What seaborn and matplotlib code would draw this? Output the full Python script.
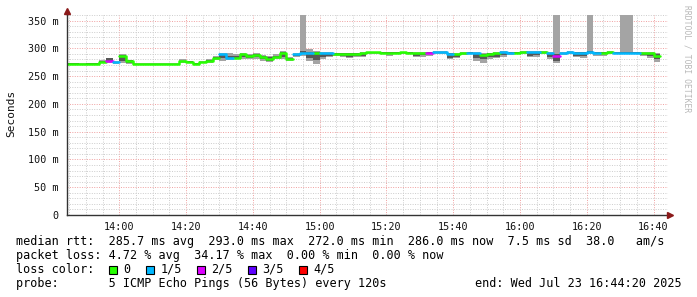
import numpy as np
import pandas as pd
import matplotlib
matplotlib.use("Agg")
import matplotlib.pyplot as plt
import seaborn as sns
from matplotlib.ticker import FixedLocator, MultipleLocator, NullFormatter

# ---------------- data ----------------
START_MIN = 13 * 60 + 44          # first 2-minute bin starts 13:44
STEP_MIN = 2
VIEW_START = 13 * 60 + 44 + 1 / 3  # 13:44:20
VIEW_END = 16 * 60 + 44 + 1 / 3    # 16:44:20

median_ms = [272.5, 272.5, 272.0, 272.5, 272.5, 275.0, 278.0, 275.0, 286.0, 278.0,
             272.0, 272.5, 272.0, 272.5, 272.0, 272.5, 272.5, 276.5, 275.0, 272.5,
             275.0, 277.5, 283.0, 289.0, 282.5, 283.0, 289.0, 286.0, 288.0, 284.0,
             281.0, 285.0, 292.0, 281.0, 289.0, 292.5, 292.5, 292.0, 291.0, 291.0,
             290.5, 290.5, 290.0, 290.5, 291.0, 293.0, 293.0, 292.5, 291.0, 292.0,
             293.0, 292.5, 291.5, 291.0, 292.5, 293.0, 293.0, 289.0, 289.0, 291.5,
             292.0, 291.0, 287.5, 290.0, 291.0, 293.0, 292.0, 292.0, 293.0, 293.0,
             293.0, 293.0, 291.0, 286.0, 291.0, 293.0, 292.0, 292.0, 293.0, 292.0,
             292.0, 293.0, 292.0, 291.0, 291.0, 292.5, 291.0, 291.0, 286.0]

lost_pings = [0, 0, 0, 0, 0, 0, 2, 1, 0, 0,
              0, 0, 0, 0, 0, 0, 0, 0, 0, 0,
              0, 0, 0, 1, 1, 0, 0, 0, 0, 0,
              0, 0, 0, 0, 1, 1, 1, 0, 1, 1,
              0, 0, 0, 0, 0, 0, 0, 0, 0, 0,
              0, 0, 0, 0, 2, 1, 1, 1, 0, 0,
              1, 1, 0, 0, 0, 1, 1, 0, 0, 1,
              1, 0, 1, 2, 1, 1, 1, 1, 1, 1,
              0, 0, 1, 1, 1, 1, 0, 0, 0]

ping_min = [272, 272, 271.5, 272, 272, 273, 274, 272.5, 273, 272,
            271.5, 272, 271.5, 272, 271.5, 272, 272, 274, 273, 271,
            273, 274, 279, 277, 279, 280, 281, 280, 281, 278,
            276, 280, 281, 278, 285, 286, 277, 272, 281, 284,
            286, 285, 283, 284, 284, 289, 289, 289, 286, 289,
            290, 290, 285, 285, 287, 290, 290, 280, 282, 288,
            289, 277, 274, 281, 282, 284, 288, 290, 290, 285,
            285, 290, 281, 273, 288, 290, 284, 283, 289, 287,
            286, 290, 290, 289, 289, 290, 286, 283, 276]

ping_2nd = [272, 272, 272, 272, 272, 274, 276, 274, 278, 273,
            272, 272, 272, 272, 272, 272, 272, 275, 274, 272,
            274, 276, 281, 282, 282, 282, 284, 283, 284, 280,
            278, 282, 285, 280, 287, 290, 283, 279, 284, 286,
            288, 287, 285, 287, 287, 291, 291, 291, 289, 291,
            291, 291, 287, 288, 289, 292, 292, 283, 285, 290,
            291, 282, 280, 285, 285, 288, 290, 291, 292, 287,
            288, 292, 285, 278, 290, 291, 287, 286, 291, 289,
            289, 292, 291, 291, 291, 291, 288, 286, 281]

ping_4th = [273, 273, 272.5, 273, 273, 277, 282, 276, 288, 279,
            272.5, 272.5, 272.5, 272.5, 272.5, 272.5, 272.5, 278, 277, 273,
            276, 279, 285, 290, 287, 287, 290, 288, 289, 287,
            284, 287, 293, 283, 290, 296, 294, 293, 292, 292,
            291, 291, 291, 291, 292, 293.5, 293.5, 293.5, 293, 293,
            293.5, 293.5, 292, 292, 293, 294, 294, 291, 290, 292,
            293, 292, 290, 291, 292, 294, 293, 293, 294, 294,
            294, 294, 292, 290, 292, 294, 293, 293, 295, 293,
            293, 294, 293, 293, 293, 293, 292, 292, 290]

ping_max = [273.5, 273.5, 273, 273.5, 273.5, 279, 283, 278, 289, 279.5,
            273, 273, 273, 273, 273, 273, 273, 280, 278, 274,
            277, 281, 286, 291, 292, 290, 292, 290, 291, 288,
            286, 289, 295, 285, 291, 400, 298, 295, 293, 293,
            292, 292, 292, 292, 293, 294, 294, 294, 294, 294,
            294, 294, 293, 293, 294, 295, 295, 292, 291, 293,
            294, 293, 292, 292, 293, 295, 294, 294, 295, 295,
            295, 295, 293, 400, 293, 295, 294, 294, 400, 294,
            294, 295, 294, 400, 400, 294, 293, 293, 292]

loss_labels = ["0", "1/5", "2/5", "3/5", "4/5"]
loss_colors = ["#26ff00", "#00b8ff", "#dd00ff", "#5e00ff", "#ff0000"]

x_tick_labels = ["14:00", "14:20", "14:40", "15:00", "15:20", "15:40", "16:00", "16:20", "16:40"]
y_tick_labels = ["0", "50 m", "100 m", "150 m", "200 m", "250 m", "300 m", "350 m"]

legend_lines = [
    "median rtt:  285.7 ms avg  293.0 ms max  272.0 ms min  286.0 ms now  7.5 ms sd  38.0   am/s",
    "packet loss: 4.72 % avg  34.17 % max  0.00 % min  0.00 % now",
]
loss_title = "loss color:"
probe_text = "probe:       5 ICMP Echo Pings (56 Bytes) every 120s"
end_text = "end: Wed Jul 23 16:44:20 2025"
ylabel = "Seconds"
watermark = "RRDTOOL / TOBI OETIKER"

# ---------------- figure ----------------
sns.set_theme(style="white")
plt.rcParams['font.family'] = ['DejaVu Sans Mono', 'DejaVu Sans']

W, H = 697, 297
fig = plt.figure(figsize=(W / 100, H / 100), dpi=100)
fig.patch.set_facecolor("white")
X0, X1, YB, YT = 67, 668, 215, 15
ax = fig.add_axes([X0 / W, 1 - YB / H, (X1 - X0) / W, (YB - YT) / H])
ax.set_facecolor("white")

n = len(median_ms)
t = START_MIN + STEP_MIN * np.arange(n)
t_edges = np.append(t, t[-1] + STEP_MIN)

def ext(a):
    a = np.asarray(a, dtype=float)
    return np.append(a, a[-1])

# smoke
ax.fill_between(t_edges, ext(ping_min), ext(ping_max), step="post",
                color="#a4a4a4", linewidth=0, zorder=2)
ax.fill_between(t_edges, ext(ping_2nd), ext(ping_4th), step="post",
                color="#575757", linewidth=0, zorder=3)

# median line coloured by loss (separate runs)
rows = []
run = 0
prev = None
for k in range(n):
    if lost_pings[k] != prev:
        if prev is not None:
            rows.append(dict(t=t[k], rtt=median_ms[k - 1], loss=loss_labels[prev], run=run))
        run += 1
        prev = lost_pings[k]
    rows.append(dict(t=t[k], rtt=median_ms[k], loss=loss_labels[lost_pings[k]], run=run))
rows.append(dict(t=t[-1] + STEP_MIN, rtt=median_ms[-1], loss=loss_labels[prev], run=run))
df = pd.DataFrame(rows)

sns.lineplot(data=df, x="t", y="rtt", hue="loss", units="run", estimator=None,
             palette=dict(zip(loss_labels, loss_colors)), drawstyle="steps-post",
             linewidth=1.8, legend=False, ax=ax, zorder=4, sort=False)

# axes limits / ticks
ax.set_xlim(VIEW_START, VIEW_END)
ax.set_ylim(0, 360)
major_x = [14 * 60 + 20 * i for i in range(len(x_tick_labels))]
ax.xaxis.set_major_locator(FixedLocator(major_x))
ax.set_xticklabels(x_tick_labels)
ax.xaxis.set_minor_locator(MultipleLocator(5))
ax.xaxis.set_minor_formatter(NullFormatter())
ax.yaxis.set_major_locator(FixedLocator([50 * i for i in range(len(y_tick_labels))]))
ax.set_yticklabels(y_tick_labels)
ax.yaxis.set_minor_locator(MultipleLocator(10))
ax.yaxis.set_minor_formatter(NullFormatter())

ax.grid(which="minor", color="#cccccc", linestyle=(0, (1, 1.5)), linewidth=0.7, zorder=0)
ax.grid(which="major", color="#f0a0a0", linestyle=(0, (1, 1.5)), linewidth=0.7, zorder=1)
ax.set_axisbelow(True)

ax.tick_params(axis="both", which="major", labelsize=7.3, colors="#444444",
               labelcolor="#111111", length=3, width=0.7, pad=3, direction="out")
ax.tick_params(axis="both", which="minor", length=2, width=0.6, colors="#777777")
ax.tick_params(axis="x", which="major", pad=2)
ax.set_xlabel("")
ax.set_ylabel("")

for s in ["top", "right"]:
    ax.spines[s].set_visible(False)
for s in ["left", "bottom"]:
    ax.spines[s].set_color("#333333")
    ax.spines[s].set_linewidth(1.0)
    ax.spines[s].set_zorder(6)

# axis arrows
ax.plot([0, 0], [1.0, 1.01], transform=ax.transAxes, color="#333333", lw=1.0, clip_on=False, zorder=6)
ax.plot([0], [1.02], transform=ax.transAxes, marker="^", markersize=4.5,
        color="#8b1a1a", clip_on=False, zorder=7, linestyle="none")
ax.plot([1.0035], [0], transform=ax.transAxes, marker=">", markersize=4.5,
        color="#8b1a1a", clip_on=False, zorder=7, linestyle="none")

# y label and watermark
fig.text(11 / W, 1 - 113 / H, ylabel, rotation=90, ha="center", va="center",
         fontsize=8, color="#111111")
fig.text(687 / W, 1 - 59 / H, watermark, rotation=270, ha="center", va="center",
         fontsize=5.8, color="#b8b8b8")

# legend text
FS = 8.5
fig.text(16 / W, 1 - 241.5 / H, legend_lines[0], ha="left", va="center", fontsize=FS, color="#000000")
fig.text(16 / W, 1 - 255.5 / H, legend_lines[1], ha="left", va="center", fontsize=FS, color="#000000")
fig.text(16 / W, 1 - 269.5 / H, loss_title, ha="left", va="center", fontsize=FS, color="#000000")
sq_x = [108.5, 146, 197, 248, 299]
lab_x = [123.5, 160.5, 211.5, 262.5, 313.5]
for lbl, col, sx, lx in zip(loss_labels, loss_colors, sq_x, lab_x):
    fig.patches.append(plt.Rectangle((sx / W, 1 - 273.5 / H), 8 / W, 8 / H,
                                     transform=fig.transFigure, facecolor=col,
                                     edgecolor="#000000", linewidth=0.8))
    fig.text(lx / W, 1 - 269.5 / H, lbl, ha="left", va="center", fontsize=FS, color="#000000")
fig.text(16 / W, 1 - 283.5 / H, probe_text, ha="left", va="center", fontsize=FS, color="#000000")
fig.text(682 / W, 1 - 283.5 / H, end_text, ha="right", va="center", fontsize=FS, color="#000000")

fig.savefig("out.png", dpi=100, facecolor="white")
